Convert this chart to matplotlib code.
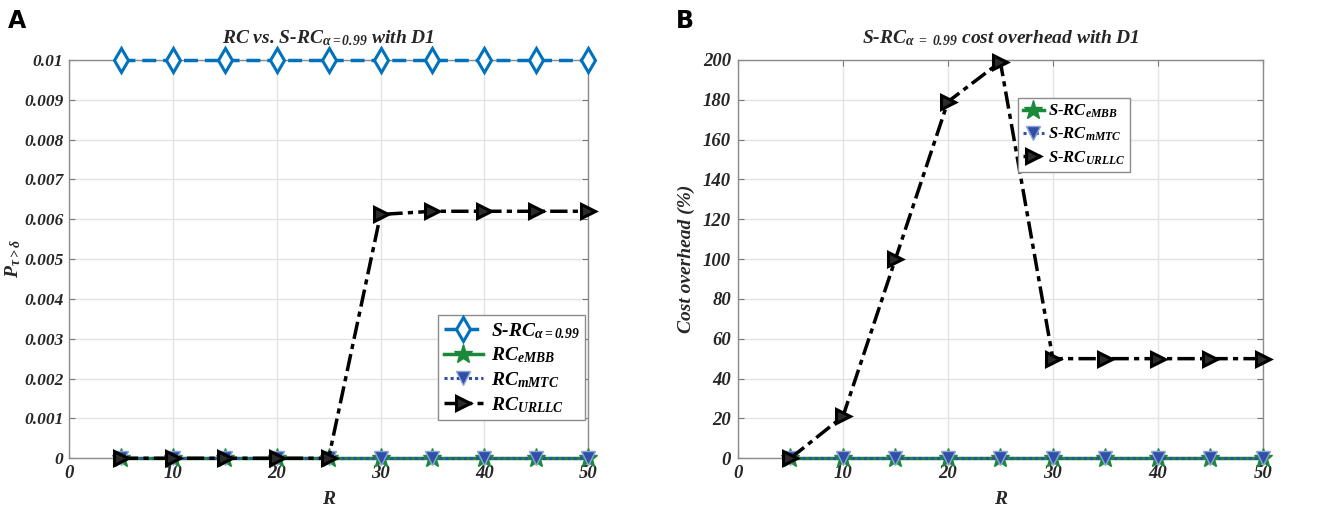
import numpy as np
import matplotlib
matplotlib.use("Agg")
import matplotlib.pyplot as plt

# data
R = [5, 10, 15, 20, 25, 30, 35, 40, 45, 50]

p_src = [0.01, 0.01, 0.01, 0.01, 0.01, 0.01, 0.01, 0.01, 0.01, 0.01]
p_embb = [0, 0, 0, 0, 0, 0, 0, 0, 0, 0]
p_mmtc = [0, 0, 0, 0, 0, 0, 0, 0, 0, 0]
p_urllc = [0, 0, 0, 0, 0, 0.00612, 0.0062, 0.0062, 0.0062, 0.0062]

c_embb = [0, 0, 0, 0, 0, 0, 0, 0, 0, 0]
c_mmtc = [0, 0, 0, 0, 0, 0, 0, 0, 0, 0]
c_urllc = [0, 21, 100, 179, 199, 50, 50, 50, 50, 50]

plt.rcParams['font.family'] = ['Liberation Serif', 'DejaVu Serif']
plt.rcParams['font.weight'] = 'bold'
plt.rcParams['font.style'] = 'italic'
plt.rcParams['axes.titleweight'] = 'bold'
plt.rcParams['axes.labelweight'] = 'bold'
plt.rcParams['mathtext.fontset'] = 'custom'
plt.rcParams['mathtext.rm'] = 'Liberation Serif:bold:italic'
plt.rcParams['mathtext.it'] = 'Liberation Serif:bold:italic'
plt.rcParams['mathtext.bf'] = 'Liberation Serif:bold:italic'

BLUE = '#0072BD'
GREEN = '#1a8a3a'
NAVY = '#2f4fa8'
TXT = '#262626'

fig = plt.figure(figsize=(13.25, 5.12), dpi=100)
ax1 = fig.add_axes([0.052, 0.105, 0.392, 0.778])
ax2 = fig.add_axes([0.557, 0.105, 0.396, 0.778])


def style_axes(ax):
    ax.set_xlim(0, 50)
    ax.set_xticks(np.arange(0, 51, 10))
    ax.grid(True, color='#e3e3e3', linewidth=1.0)
    ax.set_axisbelow(True)
    for s in ax.spines.values():
        s.set_color('#8c8c8c')
        s.set_linewidth(1.0)
    ax.tick_params(direction='in', top=True, right=True, length=4,
                   color='#777777', labelsize=13.5, labelcolor=TXT, pad=5)
    ax.set_xlabel('R', fontsize=14, color=TXT, labelpad=6)


def plot_line(ax, y, kind, label):
    if kind == 'src':
        ax.plot(R, y, color=BLUE, linestyle=(0, (4, 2)), linewidth=2.5,
                marker='d', markersize=12, markerfacecolor='white',
                markeredgecolor=BLUE, markeredgewidth=2.2, label=label,
                clip_on=False, zorder=3)
    elif kind == 'embb':
        ax.plot(R, y, color=GREEN, linestyle='-', linewidth=2.5,
                marker='*', markersize=14, markerfacecolor=GREEN,
                markeredgecolor=GREEN, label=label, clip_on=False, zorder=3)
    elif kind == 'mmtc':
        ax.plot(R, y, color=NAVY, linestyle=(0, (1, 1)), linewidth=2.2,
                marker='v', markersize=10, markerfacecolor=NAVY,
                markeredgecolor='#8fa3d8', markeredgewidth=1.0, label=label,
                clip_on=False, zorder=4)
    else:
        ax.plot(R, y, color='black', linestyle=(0, (5, 1.5, 1.5, 1.5)), linewidth=2.5,
                marker='>', markersize=10, markerfacecolor='#2b2b2b',
                markeredgecolor='black', markeredgewidth=2.2, label=label,
                clip_on=False, zorder=5)


# panel A
plot_line(ax1, p_src, 'src', r'S-RC$_{\alpha=0.99}$')
plot_line(ax1, p_embb, 'embb', r'RC$_{eMBB}$')
plot_line(ax1, p_mmtc, 'mmtc', r'RC$_{mMTC}$')
plot_line(ax1, p_urllc, 'urllc', r'RC$_{URLLC}$')
style_axes(ax1)
ax1.tick_params(axis='y', labelsize=12.5, pad=4)
ax1.set_ylim(0, 0.01)
ax1.set_yticks(np.arange(0, 0.01001, 0.001))
ax1.set_yticklabels(['0'] + ['%g' % v for v in np.round(np.arange(0.001, 0.01001, 0.001), 3)])
ax1.set_ylabel(r'P$_{\tau > \delta}$', fontsize=14, color=TXT, labelpad=1)
ax1.set_title(r'RC vs. S-RC$_{\alpha=0.99}$ with D1', fontsize=14, color=TXT, pad=12)
ax1.legend(loc='lower right', bbox_to_anchor=(0.994, 0.095), borderaxespad=0,
           fontsize=14, frameon=True, fancybox=False, edgecolor='#8c8c8c',
           framealpha=1, handlelength=2.0, borderpad=0.3, labelspacing=0.25,
           handletextpad=0.4)

# panel B
plot_line(ax2, c_embb, 'embb', r'S-RC$_{eMBB}$')
plot_line(ax2, c_mmtc, 'mmtc', r'S-RC$_{mMTC}$')
plot_line(ax2, c_urllc, 'urllc', r'S-RC$_{URLLC}$')
style_axes(ax2)
ax2.set_ylim(0, 200)
ax2.set_yticks(np.arange(0, 201, 20))
ax2.set_ylabel('Cost overhead (%)', fontsize=14, color=TXT, labelpad=6)
ax2.set_title(r'S-RC$_{\alpha\ =\ 0.99}$ cost overhead with D1', fontsize=14, color=TXT, pad=12)
ax2.legend(loc='upper right', bbox_to_anchor=(0.747, 0.905), borderaxespad=0,
           fontsize=12, frameon=True, fancybox=False, edgecolor='#8c8c8c',
           framealpha=1, handlelength=1.3, borderpad=0.3, labelspacing=0.35,
           handletextpad=0.2)

fig.text(0.006, 0.945, 'A', fontsize=17, fontweight='bold', style='normal',
         family='DejaVu Sans')
fig.text(0.510, 0.945, 'B', fontsize=17, fontweight='bold', style='normal',
         family='DejaVu Sans')

fig.savefig('out.png', dpi=100)
